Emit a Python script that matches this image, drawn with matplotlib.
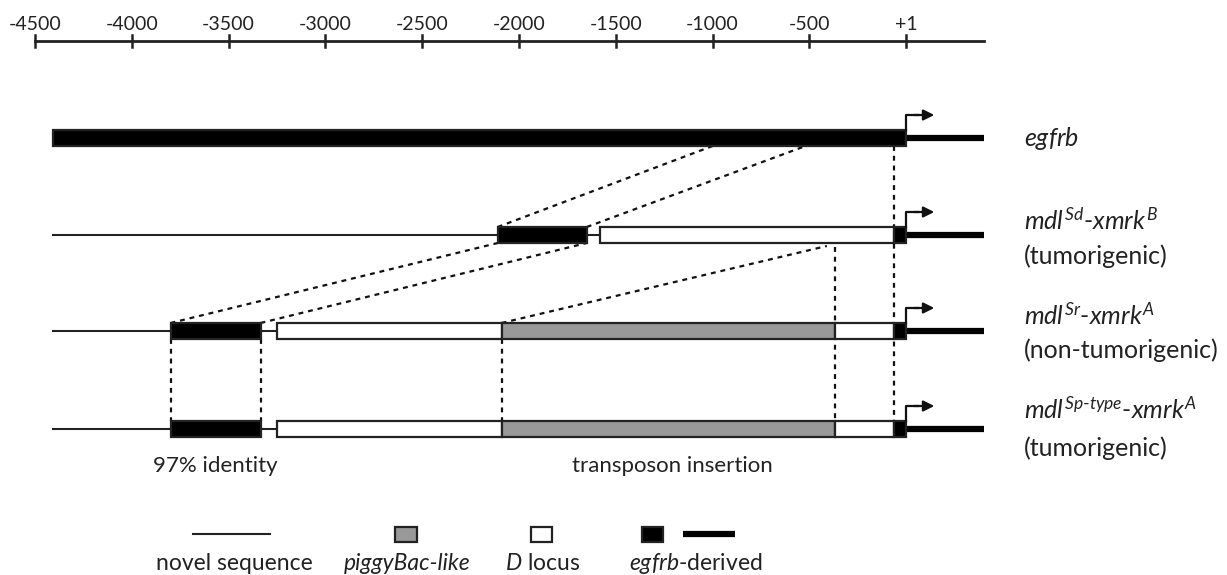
import matplotlib
matplotlib.use("Agg")
import matplotlib.pyplot as plt
from matplotlib.patches import Rectangle

plt.rcParams['font.family'] = ['Lato', 'DejaVu Sans']
plt.rcParams['mathtext.fontset'] = 'custom'
plt.rcParams['mathtext.it'] = 'Lato:italic'
plt.rcParams['mathtext.rm'] = 'Lato'

# Scale (bp relative to +1)
tick_pos = [-4500, -4000, -3500, -3000, -2500, -2000, -1500, -1000, -500, 0]
tick_labels = ['-4500', '-4000', '-3500', '-3000', '-2500', '-2000', '-1500', '-1000', '-500', '+1']

# Segments per construct: (start, end, kind)
egfrb_segs = [(-4405, 0, 'egfrb')]
sd_segs = [(-4405, -2110, 'novel'), (-2110, -1650, 'egfrb'), (-1650, -1580, 'novel'),
           (-1580, -65, 'D'), (-65, 0, 'egfrb')]
sr_segs = [(-4405, -3800, 'novel'), (-3800, -3335, 'egfrb'), (-3335, -3250, 'novel'),
           (-3250, -2090, 'D'), (-2090, -370, 'piggyBac'), (-370, -65, 'D'), (-65, 0, 'egfrb')]
sp_segs = list(sr_segs)
constructs = [egfrb_segs, sd_segs, sr_segs, sp_segs]
tail_end = 400

row_labels = [r'$egfrb$',
              r'$mdl^{Sd}\text{-}xmrk^{B}$',
              r'$mdl^{Sr}\text{-}xmrk^{A}$',
              r'$mdl^{Sp\text{-}type}\text{-}xmrk^{A}$']
row_notes = [None, '(tumorigenic)', '(non-tumorigenic)', '(tumorigenic)']

fills = {'egfrb': 'black', 'D': 'white', 'piggyBac': '#999999'}

# layout (pixel-like y, inverted)
rows_y = [138, 235, 331, 429]
h = 8

fig = plt.figure(figsize=(12.27, 5.75), dpi=100)
ax = fig.add_axes([0, 0, 1, 1])
ax.set_xlim(-4680.8, 1657)
ax.set_ylim(575, 0)
ax.axis('off')

# scale bar
ax.plot([-4500, tail_end], [41, 41], color='#222222', lw=2)
for p, lab in zip(tick_pos, tick_labels):
    ax.plot([p, p], [35, 47], color='#222222', lw=1.8)
    ax.text(p, 25, lab, ha='center', va='center', fontsize=14, color='#222222')

# constructs
for y, segs in zip(rows_y, constructs):
    for s, e, kind in segs:
        if kind == 'novel':
            ax.plot([s, e], [y, y], color='#222222', lw=1.5, zorder=2)
        else:
            ax.add_patch(Rectangle((s, y - h), e - s, 2 * h, facecolor=fills[kind],
                                   edgecolor='#222222', lw=1.6, zorder=3))
    ax.plot([0, tail_end], [y, y], color='black', lw=4.5, solid_capstyle='butt', zorder=2)
    # transcription start arrow
    ay = y - h - 15
    ax.plot([0, 0, 60], [y - h, ay, ay], color='#111111', lw=1.6, zorder=4)
    ax.annotate('', xy=(145, ay), xytext=(40, ay),
                arrowprops=dict(arrowstyle='-|>', color='#111111', lw=1.6,
                                mutation_scale=16, shrinkA=0, shrinkB=0), zorder=4)

# dotted homology lines
dot = dict(color='#111111', lw=1.6, linestyle=(0, (2.2, 2.2)), zorder=1)
r1, r2, r3, r4 = rows_y
ax.plot([-2110, -1000], [r2 - h, r1 + h], **dot)
ax.plot([-1650, -520], [r2 - h, r1 + h], **dot)
ax.plot([-3800, -2110], [r3 - h, r2 + h], **dot)
ax.plot([-3335, -1650], [r3 - h, r2 + h], **dot)
ax.plot([-2090, -410], [r3 - h, r2 + h + 3], **dot)
ax.plot([-370, -370], [r2 + h + 4, r4 - h], **dot)
ax.plot([-65, -65], [r1 + h, r4 - h], **dot)
for p in (-3800, -3335, -2090):
    ax.plot([p, p], [r3 + h, r4 - h], **dot)

ax.text(-3570, 466, '97% identity', ha='center', va='center', fontsize=16, color='#222222')
ax.text(-1210, 466, 'transposon insertion', ha='center', va='center', fontsize=16, color='#222222')

# row labels
label_x = 608
ax.text(label_x, 138, row_labels[0], ha='left', va='center', fontsize=18, color='#222222')
line1_y = [221, 315, 409]
line2_y = [256, 350, 448]
for lab, note, y1, y2 in zip(row_labels[1:], row_notes[1:], line1_y, line2_y):
    ax.text(label_x, y1, lab, ha='left', va='center', fontsize=18, color='#222222')
    ax.text(label_x, y2, note, ha='left', va='center', fontsize=18, color='#222222')

# legend
ly = 534
ax.plot([-3684, -3286], [ly, ly], color='#222222', lw=1.5)
ax.add_patch(Rectangle((-2640, ly - 7.5), 113, 15, facecolor='#999999', edgecolor='#222222', lw=1.6))
ax.add_patch(Rectangle((-1938, ly - 7.5), 108, 15, facecolor='white', edgecolor='#222222', lw=1.6))
ax.add_patch(Rectangle((-1365, ly - 7.5), 108, 15, facecolor='black', edgecolor='#222222', lw=1.6))
ax.plot([-1153, -884], [ly, ly], color='black', lw=4.5, solid_capstyle='butt')
ty = 563
ax.text(-3470, ty, 'novel sequence', ha='center', va='center', fontsize=16.5, color='#222222')
ax.text(-2576, ty, 'piggyBac-like', ha='center', va='center', fontsize=16.5,
        style='italic', color='#222222')
ax.text(-1879, ty, r'$D$ locus', ha='center', va='center', fontsize=16.5, color='#222222')
ax.text(-1085, ty, r'$egfrb$-derived', ha='center', va='center', fontsize=16.5, color='#222222')

fig.savefig('out.png', dpi=100)
